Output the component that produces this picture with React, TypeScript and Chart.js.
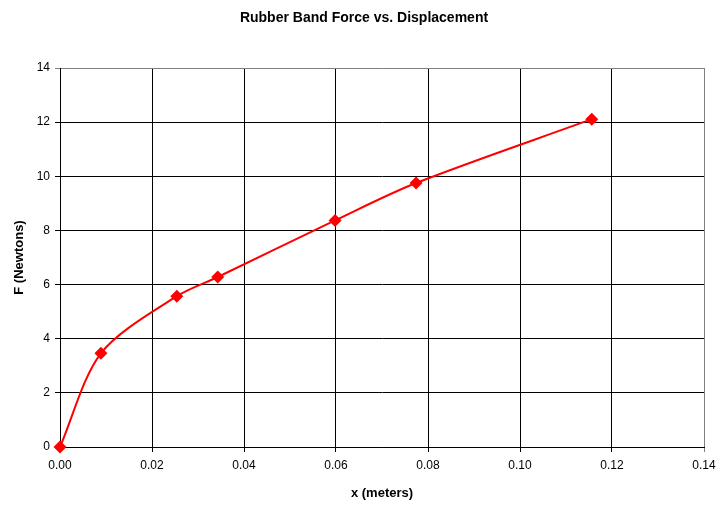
import React, { useEffect, useRef } from "react";
import { Chart, registerables } from "chart.js";

Chart.register(...registerables);

const displacement = [0, 0.0089, 0.0254, 0.0343, 0.0598, 0.0774, 0.1156];
const force = [0, 3.46, 5.57, 6.28, 8.37, 9.75, 12.11];
const titleText = "Rubber Band Force vs. Displacement";
const xTitle = "x (meters)";
const yTitle = "F (Newtons)";

const FONT = "'Liberation Sans', Arial, sans-serif";

export default function App() {
  const ref = useRef<HTMLCanvasElement>(null);
  useEffect(() => {
    const ctx = ref.current!.getContext("2d")!;
    const chart = new Chart(ctx, {
      type: "line",
      data: {
        datasets: [
          {
            data: displacement.map((x, i) => ({ x, y: force[i] })),
            borderColor: "#ff0000",
            backgroundColor: "#ff0000",
            borderWidth: 2,
            pointStyle: "rectRot",
            pointRadius: 6.5,
            pointBorderWidth: 0,
            pointBackgroundColor: "#ff0000",
            tension: 0.3,
            fill: false,
            clip: false,
          } as any,
        ],
      },
      options: {
        animation: false,
        responsive: false,
        devicePixelRatio: 1,
        layout: { padding: 0 },
        plugins: {
          legend: { display: false },
          tooltip: { enabled: false },
          title: {
            display: true,
            text: titleText,
            color: "#000",
            font: { family: FONT, size: 14, weight: "bold" },
            padding: { top: 10, bottom: 41.2 },
          },
        },
        scales: {
          x: {
            type: "linear",
            min: 0,
            max: 0.14,
            afterFit: (s: any) => {
              s.height = 67;
            },
            ticks: {
              stepSize: 0.02,
              color: "#000",
              font: { family: FONT, size: 12 },
              padding: 6,
              maxRotation: 0,
              callback: (v: any) => Number(v).toFixed(2),
            },
            grid: {
              color: (c: any) => (c.index === 7 ? "#808080" : "#000"),
              tickColor: (c: any) => (c.index === 7 ? "#808080" : "#000"),
              tickLength: 5,
              lineWidth: 1,
            },
            border: { color: "#000", width: 1 },
            title: {
              display: true,
              text: xTitle,
              color: "#000",
              font: { family: FONT, size: 13, weight: "bold" },
              padding: { top: 13, bottom: 13 },
            },
          },
          y: {
            min: 0,
            max: 14,
            afterFit: (s: any) => {
              s.width = 60;
            },
            ticks: {
              stepSize: 2,
              color: "#000",
              font: { family: FONT, size: 12 },
              padding: 5,
            },
            grid: {
              color: (c: any) => (c.index === 7 ? "#808080" : "#000"),
              tickColor: (c: any) => (c.index === 7 ? "#808080" : "#000"),
              tickLength: 5,
              lineWidth: 1,
            },
            border: { color: "#000", width: 1 },
            title: {
              display: true,
              text: yTitle,
              color: "#000",
              font: { family: FONT, size: 13, weight: "bold" },
              padding: { top: 12, bottom: 12 },
            },
          },
          yRight: {
            position: "right",
            min: 0,
            max: 14,
            afterFit: (s: any) => {
              s.width = 24;
            },
            ticks: { display: false },
            grid: { display: false, drawTicks: false },
            border: { display: false },
          },
        },
      },
    });
    return () => chart.destroy();
  }, []);
  return (
    <div style={{ position: "fixed", left: 0, top: 0, width: 728, height: 514, background: "#fff" }}>
      <canvas ref={ref} width={728} height={514} style={{ width: 728, height: 514 }} />
    </div>
  );
}
